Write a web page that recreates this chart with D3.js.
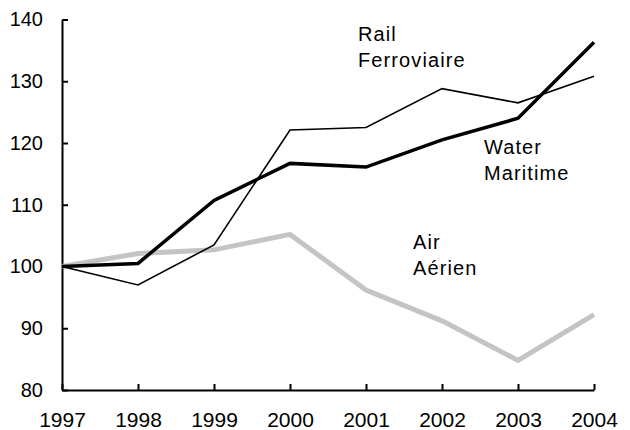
<!DOCTYPE html>
<html>
<head>
<meta charset="utf-8">
<script src="https://cdn.jsdelivr.net/npm/d3@7"></script>
<style>
  body { margin: 0; background: #fff; }
  text { font-family: "Liberation Sans", Arial, sans-serif; }
</style>
</head>
<body>
<script>
// data
const years = [1997, 1998, 1999, 2000, 2001, 2002, 2003, 2004];
const rail = [100, 97, 103.5, 122.1, 122.5, 128.8, 126.5, 130.8];
const water = [100, 100.5, 110.7, 116.7, 116.1, 120.5, 124, 136.3];
const air = [100, 102.1, 102.7, 105.2, 96.2, 91.2, 84.8, 92.2];
const yTicks = [80, 90, 100, 110, 120, 130, 140];

const width = 630, height = 430;
const svg = d3.select("body").append("svg")
  .attr("width", width)
  .attr("height", height);

const x = d3.scaleLinear().domain([1997, 2004]).range([62, 594]);
const y = d3.scaleLinear().domain([80, 140]).range([390, 19.5]);

// axes (ticks pointing inward)
const yAxis = svg.append("g")
  .attr("transform", "translate(62,0)")
  .call(d3.axisLeft(y).tickValues(yTicks).tickSizeInner(-6).tickSizeOuter(0).tickPadding(19));

const xAxis = svg.append("g")
  .attr("transform", "translate(0,390)")
  .call(d3.axisBottom(x).tickValues(years).tickFormat(d3.format("d")).tickSizeInner(-6).tickSizeOuter(0).tickPadding(22));

[yAxis, xAxis].forEach(g => {
  g.select(".domain").attr("stroke", "#000").attr("stroke-width", 2);
  g.selectAll(".tick line").attr("stroke", "#000").attr("stroke-width", 2);
  g.selectAll(".tick text")
    .attr("fill", "#000")
    .attr("font-family", "Liberation Sans, Arial, sans-serif");
});
yAxis.selectAll(".tick text").attr("font-size", "20px");
xAxis.selectAll(".tick text").attr("font-size", "21px");

const line = d3.line()
  .x((d, i) => x(years[i]))
  .y(d => y(d));

// series
svg.append("path")
  .datum(air)
  .attr("d", line)
  .attr("fill", "none")
  .attr("stroke", "#c4c4c4")
  .attr("stroke-width", 5);

svg.append("path")
  .datum(rail)
  .attr("d", line)
  .attr("fill", "none")
  .attr("stroke", "#000")
  .attr("stroke-width", 1.6);

svg.append("path")
  .datum(water)
  .attr("d", line)
  .attr("fill", "none")
  .attr("stroke", "#000")
  .attr("stroke-width", 3.5);

// labels
const labels = [
  { lines: ["Rail", "Ferroviaire"], x: 358, y: 41 },
  { lines: ["Water", "Maritime"], x: 484, y: 154 },
  { lines: ["Air", "Aérien"], x: 413, y: 249 }
];

labels.forEach(l => {
  const t = svg.append("text")
    .attr("x", l.x)
    .attr("y", l.y)
    .attr("font-size", "20px")
    .attr("letter-spacing", "1.1px")
    .attr("fill", "#000");
  l.lines.forEach((s, i) => {
    t.append("tspan")
      .attr("x", l.x)
      .attr("dy", i === 0 ? 0 : 26)
      .text(s);
  });
});
</script>
</body>
</html>
